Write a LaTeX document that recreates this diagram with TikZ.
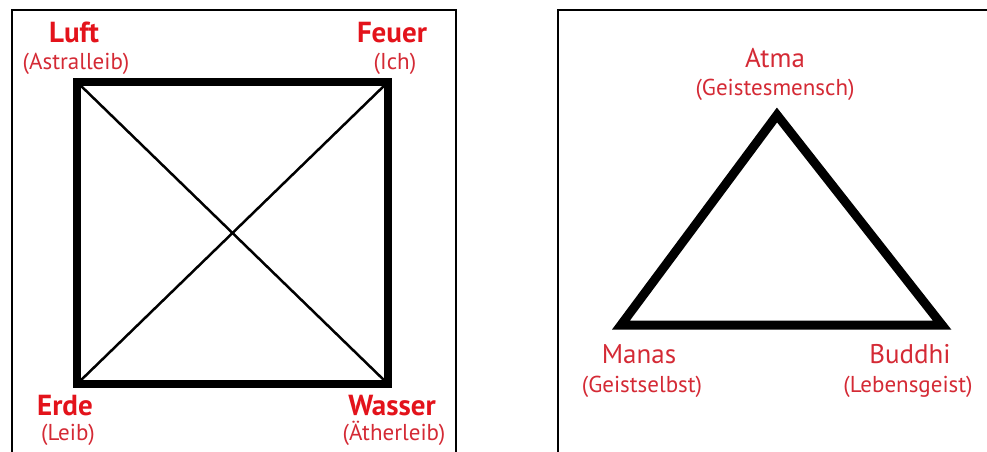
\documentclass[tikz,border=0pt]{standalone}
\usepackage{fontspec}
\setmainfont{PT Sans}
\definecolor{titlered}{HTML}{E3131B}
\definecolor{subred}{HTML}{D42A35}
\begin{document}
\begin{tikzpicture}[x=1pt, y=-1pt,
    frame/.style={line width=2pt},
    edge/.style={line width=8pt, line join=miter},
    cross/.style={line width=2.5pt},
    element/.style={text=titlered, font=\fontsize{29}{30}\selectfont\bfseries, inner sep=0pt, anchor=base},
    principle/.style={text=subred, font=\fontsize{27}{28}\selectfont, inner sep=0pt, anchor=base},
    sub/.style={text=subred, font=\fontsize{23}{24}\selectfont, inner sep=0pt, anchor=base},
]
\useasboundingbox (0,0) rectangle (987,452);

% Rahmen
\draw[frame] (12,452) -- (12,10) -- (456,10) -- (456,452);
\draw[frame] (558,452) -- (558,10) -- (987,10);

% Quadrat der Elemente
\coordinate (luft) at (77,82);
\coordinate (feuer) at (388,82);
\coordinate (wasser) at (388,384);
\coordinate (erde) at (77,384);
\draw[cross] (luft) -- (wasser);
\draw[cross] (feuer) -- (erde);
\draw[edge] (luft) -- (feuer) -- (wasser) -- (erde) -- cycle;

\node[element] (luftname) at (74,42) {Luft};
\node[sub] (luftsub) at (76,70) {(Astralleib)};
\node[element] (feuername) at (392,42) {Feuer};
\node[sub] (feuersub) at (395,70) {(Ich)};
\node[element] (erdename) at (65,415) {Erde};
\node[sub] (erdesub) at (68,440) {(Leib)};
\node[element] (wassername) at (392,415) {Wasser};
\node[sub] (wassersub) at (394,440) {(Ätherleib)};

% Dreieck
\coordinate (atma) at (777,115);
\coordinate (manas) at (621,325);
\coordinate (buddhi) at (942,325);
\draw[edge, line width=9pt] (atma) -- (buddhi) -- (manas) -- cycle;

\node[principle] (atmaname) at (775,67) {Atma};
\node[sub] (atmasub) at (775,95) {(Geistesmensch)};
\node[principle] (manasname) at (639,363) {Manas};
\node[sub] (manassub) at (642,392) {(Geistselbst)};
\node[principle] (buddhiname) at (910,363) {Buddhi};
\node[sub] (buddhisub) at (908,392) {(Lebensgeist)};
\end{tikzpicture}
\end{document}
